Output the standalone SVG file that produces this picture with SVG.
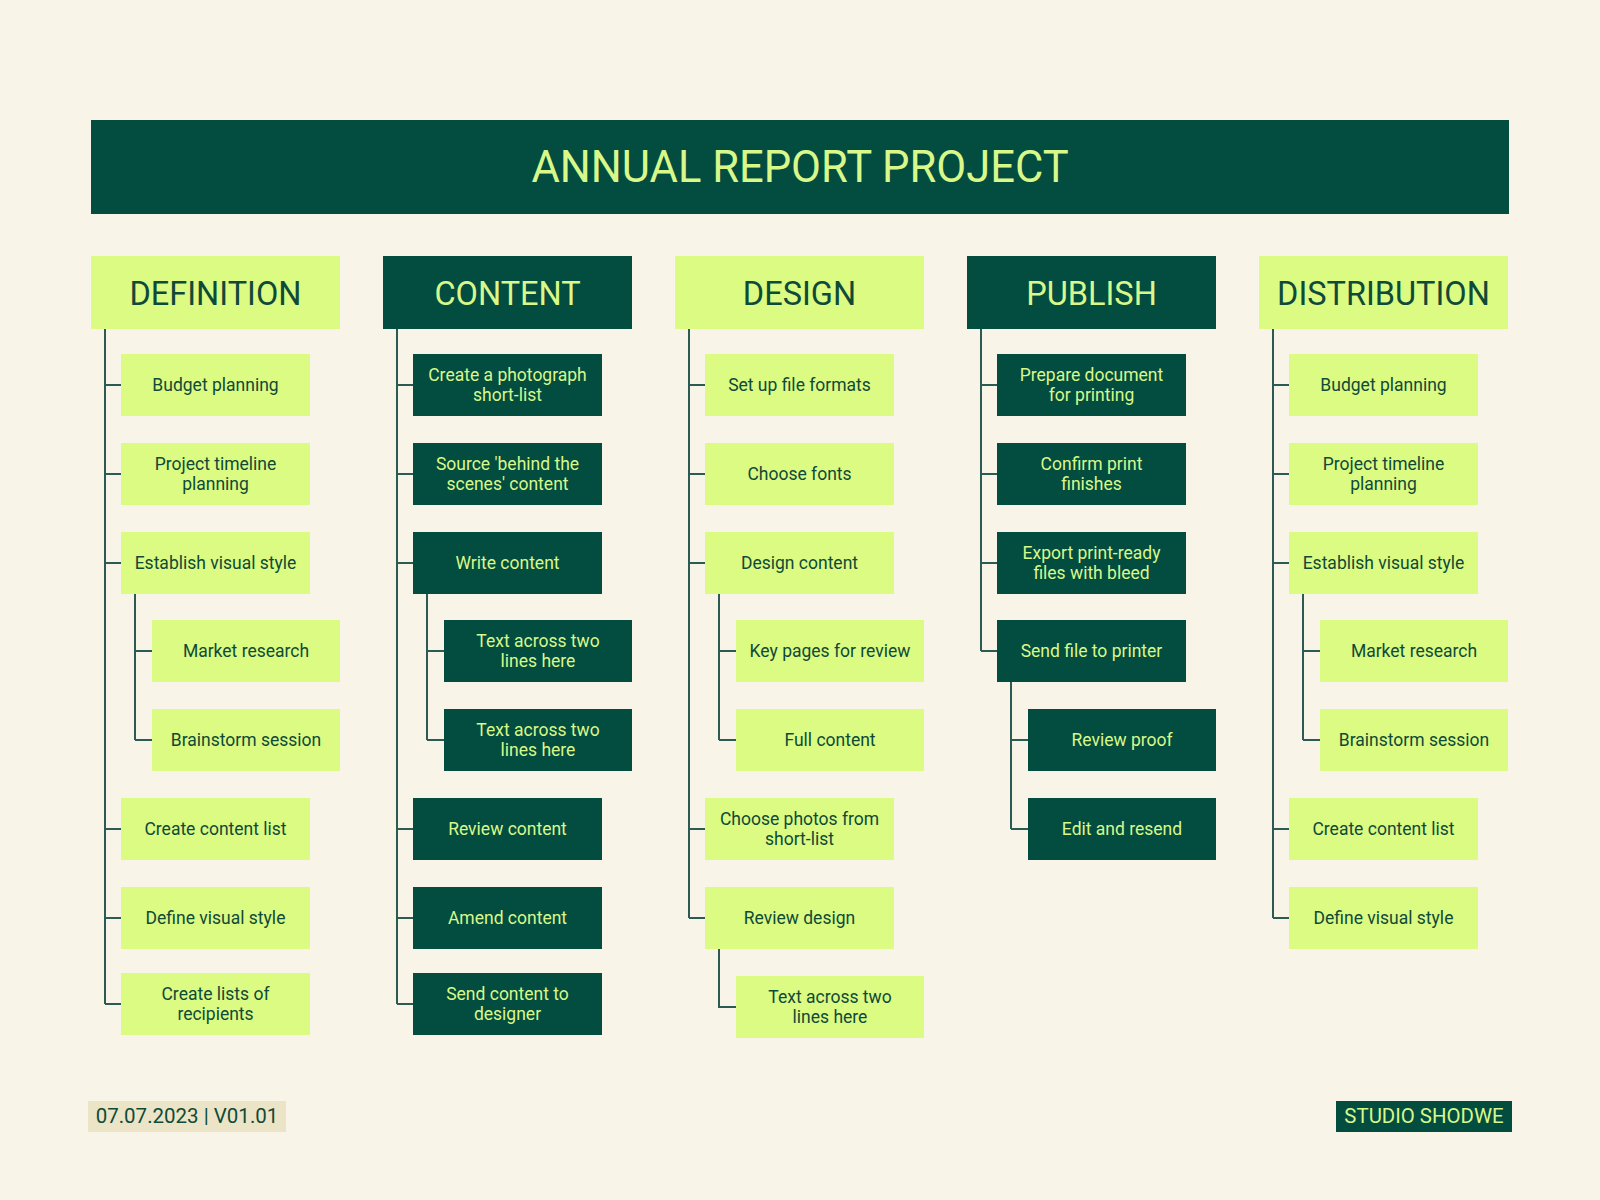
<svg xmlns="http://www.w3.org/2000/svg" width="1600" height="1200" viewBox="0 0 1600 1200">
<style>
text{font-family:Roboto,"Liberation Sans",sans-serif;text-anchor:middle}
.lb{fill:#dbfb82}
.db{fill:#034c40}
.lt{fill:#0f4a38;font-size:17.5px}
.dt{fill:#d8f88a;font-size:17.5px}
.lh{fill:#0f4a38;font-size:32.5px}
.dh{fill:#d8f88a;font-size:32.5px}
.conn path{fill:none;stroke:#2c5a54;stroke-width:2}
</style>
<rect width="1600" height="1200" fill="#f8f4e8"/>
<g id="title">
<rect x="91" y="120" width="1418" height="94" class="db"/>
<text x="800" y="182" style="fill:#d8f88a;font-size:43.5px">ANNUAL REPORT PROJECT</text>
</g>
<g class="conn" id="connectors">
<path d="M105,329V1004M105,385H121M105,474H121M105,563H121M105,829H121M105,918H121M105,1004H121"/>
<path d="M135,594V740M135,651H152M135,740H152"/>
<path d="M397,329V1004M397,385H413M397,474H413M397,563H413M397,829H413M397,918H413M397,1004H413"/>
<path d="M427,594V740M427,651H444M427,740H444"/>
<path d="M689,329V918M689,385H705M689,474H705M689,563H705M689,829H705M689,918H705"/>
<path d="M719,594V740M719,651H736M719,740H736"/>
<path d="M719,949V1007H736"/>
<path d="M981,329V651M981,385H997M981,474H997M981,563H997M981,651H997"/>
<path d="M1011,682V829M1011,740H1028M1011,829H1028"/>
<path d="M1273,329V918M1273,385H1289M1273,474H1289M1273,563H1289M1273,829H1289M1273,918H1289"/>
<path d="M1303,594V740M1303,651H1320M1303,740H1320"/>
</g>
<!-- DEFINITION -->
<g id="h-definition"><rect x="91" y="256" width="249" height="73" class="lb"/><text x="215.5" y="305" class="lh">DEFINITION</text></g>
<g id="def-1"><rect x="121" y="354" width="189" height="62" class="lb"/><text x="215.5" y="391" class="lt">Budget planning</text></g>
<g id="def-2"><rect x="121" y="443" width="189" height="62" class="lb"/><text x="215.5" y="470" class="lt">Project timeline</text><text x="215.5" y="489.5" class="lt">planning</text></g>
<g id="def-3"><rect x="121" y="532" width="189" height="62" class="lb"/><text x="215.5" y="569" class="lt">Establish visual style</text></g>
<g id="def-3a"><rect x="152" y="620" width="188" height="62" class="lb"/><text x="246" y="657" class="lt">Market research</text></g>
<g id="def-3b"><rect x="152" y="709" width="188" height="62" class="lb"/><text x="246" y="746" class="lt">Brainstorm session</text></g>
<g id="def-4"><rect x="121" y="798" width="189" height="62" class="lb"/><text x="215.5" y="835" class="lt">Create content list</text></g>
<g id="def-5"><rect x="121" y="887" width="189" height="62" class="lb"/><text x="215.5" y="924" class="lt">Define visual style</text></g>
<g id="def-6"><rect x="121" y="973" width="189" height="62" class="lb"/><text x="215.5" y="1000" class="lt">Create lists of</text><text x="215.5" y="1019.5" class="lt">recipients</text></g>
<!-- CONTENT -->
<g id="h-content"><rect x="383" y="256" width="249" height="73" class="db"/><text x="507.5" y="305" class="dh">CONTENT</text></g>
<g id="con-1"><rect x="413" y="354" width="189" height="62" class="db"/><text x="507.5" y="381" class="dt">Create a photograph</text><text x="507.5" y="400.5" class="dt">short-list</text></g>
<g id="con-2"><rect x="413" y="443" width="189" height="62" class="db"/><text x="507.5" y="470" class="dt">Source 'behind the</text><text x="507.5" y="489.5" class="dt">scenes' content</text></g>
<g id="con-3"><rect x="413" y="532" width="189" height="62" class="db"/><text x="507.5" y="569" class="dt">Write content</text></g>
<g id="con-3a"><rect x="444" y="620" width="188" height="62" class="db"/><text x="538" y="647" class="dt">Text across two</text><text x="538" y="666.5" class="dt">lines here</text></g>
<g id="con-3b"><rect x="444" y="709" width="188" height="62" class="db"/><text x="538" y="736" class="dt">Text across two</text><text x="538" y="755.5" class="dt">lines here</text></g>
<g id="con-4"><rect x="413" y="798" width="189" height="62" class="db"/><text x="507.5" y="835" class="dt">Review content</text></g>
<g id="con-5"><rect x="413" y="887" width="189" height="62" class="db"/><text x="507.5" y="924" class="dt">Amend content</text></g>
<g id="con-6"><rect x="413" y="973" width="189" height="62" class="db"/><text x="507.5" y="1000" class="dt">Send content to</text><text x="507.5" y="1019.5" class="dt">designer</text></g>
<!-- DESIGN -->
<g id="h-design"><rect x="675" y="256" width="249" height="73" class="lb"/><text x="799.5" y="305" class="lh">DESIGN</text></g>
<g id="des-1"><rect x="705" y="354" width="189" height="62" class="lb"/><text x="799.5" y="391" class="lt">Set up file formats</text></g>
<g id="des-2"><rect x="705" y="443" width="189" height="62" class="lb"/><text x="799.5" y="480" class="lt">Choose fonts</text></g>
<g id="des-3"><rect x="705" y="532" width="189" height="62" class="lb"/><text x="799.5" y="569" class="lt">Design content</text></g>
<g id="des-3a"><rect x="736" y="620" width="188" height="62" class="lb"/><text x="830" y="657" class="lt">Key pages for review</text></g>
<g id="des-3b"><rect x="736" y="709" width="188" height="62" class="lb"/><text x="830" y="746" class="lt">Full content</text></g>
<g id="des-4"><rect x="705" y="798" width="189" height="62" class="lb"/><text x="799.5" y="825" class="lt">Choose photos from</text><text x="799.5" y="844.5" class="lt">short-list</text></g>
<g id="des-5"><rect x="705" y="887" width="189" height="62" class="lb"/><text x="799.5" y="924" class="lt">Review design</text></g>
<g id="des-5a"><rect x="736" y="976" width="188" height="62" class="lb"/><text x="830" y="1003" class="lt">Text across two</text><text x="830" y="1022.5" class="lt">lines here</text></g>
<!-- PUBLISH -->
<g id="h-publish"><rect x="967" y="256" width="249" height="73" class="db"/><text x="1091.5" y="305" class="dh">PUBLISH</text></g>
<g id="pub-1"><rect x="997" y="354" width="189" height="62" class="db"/><text x="1091.5" y="381" class="dt">Prepare document</text><text x="1091.5" y="400.5" class="dt">for printing</text></g>
<g id="pub-2"><rect x="997" y="443" width="189" height="62" class="db"/><text x="1091.5" y="470" class="dt">Confirm print</text><text x="1091.5" y="489.5" class="dt">finishes</text></g>
<g id="pub-3"><rect x="997" y="532" width="189" height="62" class="db"/><text x="1091.5" y="559" class="dt">Export print-ready</text><text x="1091.5" y="578.5" class="dt">files with bleed</text></g>
<g id="pub-4"><rect x="997" y="620" width="189" height="62" class="db"/><text x="1091.5" y="657" class="dt">Send file to printer</text></g>
<g id="pub-4a"><rect x="1028" y="709" width="188" height="62" class="db"/><text x="1122" y="746" class="dt">Review proof</text></g>
<g id="pub-4b"><rect x="1028" y="798" width="188" height="62" class="db"/><text x="1122" y="835" class="dt">Edit and resend</text></g>
<!-- DISTRIBUTION -->
<g id="h-distribution"><rect x="1259" y="256" width="249" height="73" class="lb"/><text x="1383.5" y="305" class="lh">DISTRIBUTION</text></g>
<g id="dis-1"><rect x="1289" y="354" width="189" height="62" class="lb"/><text x="1383.5" y="391" class="lt">Budget planning</text></g>
<g id="dis-2"><rect x="1289" y="443" width="189" height="62" class="lb"/><text x="1383.5" y="470" class="lt">Project timeline</text><text x="1383.5" y="489.5" class="lt">planning</text></g>
<g id="dis-3"><rect x="1289" y="532" width="189" height="62" class="lb"/><text x="1383.5" y="569" class="lt">Establish visual style</text></g>
<g id="dis-3a"><rect x="1320" y="620" width="188" height="62" class="lb"/><text x="1414" y="657" class="lt">Market research</text></g>
<g id="dis-3b"><rect x="1320" y="709" width="188" height="62" class="lb"/><text x="1414" y="746" class="lt">Brainstorm session</text></g>
<g id="dis-4"><rect x="1289" y="798" width="189" height="62" class="lb"/><text x="1383.5" y="835" class="lt">Create content list</text></g>
<g id="dis-5"><rect x="1289" y="887" width="189" height="62" class="lb"/><text x="1383.5" y="924" class="lt">Define visual style</text></g>
<!-- footer -->
<g id="date"><rect x="88" y="1101" width="198" height="31" fill="#ece4c6"/><text x="187" y="1123" style="fill:#0f4a38;font-size:20.5px">07.07.2023 | V01.01</text></g>
<g id="studio"><rect x="1336" y="1101" width="176" height="31" class="db"/><text x="1424" y="1123" style="fill:#d8f88a;font-size:20.4px">STUDIO SHODWE</text></g>
</svg>
